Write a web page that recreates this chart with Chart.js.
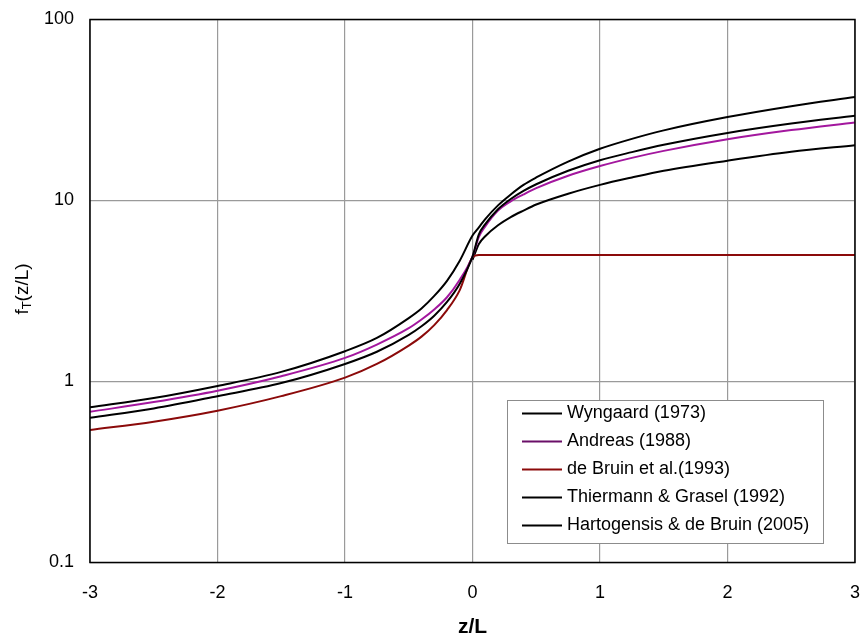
<!DOCTYPE html>
<html>
<head>
<meta charset="utf-8">
<title>fT(z/L)</title>
<script src="https://cdn.jsdelivr.net/npm/chart.js@4.4.1/dist/chart.umd.min.js"></script>
<style>
  html, body { margin: 0; padding: 0; background: #fff; }
  #wrap { width: 861px; height: 636px; }
</style>
</head>
<body>
<div id="wrap"><canvas id="ftChart" width="861" height="636"></canvas></div>
<script>
// Stability parameter z/L and the fT functions of each author
const zValues = [-3, -2.5, -2, -1.5, -1, -0.75, -0.5, -0.4, -0.3, -0.2, -0.1, 0, 0.05, 0.1, 0.2, 0.3, 0.4, 0.5, 0.75, 1, 1.25, 1.5, 2, 2.5, 3]

const wyngaard    = [0.63, 0.71, 0.83, 0.98, 1.25, 1.46, 1.81, 2.02, 2.31, 2.75, 3.47, 4.9, 6.5, 7.4, 8.95, 10.2, 11.3, 12.3, 14.6, 16.7, 18.5, 20.3, 23.6, 26.6, 29.4]
const andreas     = [0.68, 0.77, 0.89, 1.07, 1.35, 1.6, 1.97, 2.2, 2.5, 2.92, 3.65, 4.9, 6.3, 7.2, 8.8, 9.9, 10.8, 11.7, 13.7, 15.5, 17.2, 18.8, 21.8, 24.5, 27.0]
const deBruin     = [0.54, 0.6, 0.69, 0.83, 1.05, 1.25, 1.58, 1.77, 2.05, 2.48, 3.2, 4.85, 5.0, 5.0, 5.0, 5.0, 5.0, 5.0, 5.0, 5.0, 5.0, 5.0, 5.0, 5.0, 5.0]
const thiermann   = [0.72, 0.81, 0.945, 1.13, 1.47, 1.74, 2.24, 2.53, 2.97, 3.6, 4.65, 6.4, 7.1, 7.9, 9.4, 10.8, 12.2, 13.4, 16.4, 19.3, 21.9, 24.4, 28.9, 33.2, 37.3]
const hartogensis = [null, null, null, null, null, null, null, null, null, null, null, 4.7, 5.75, 6.35, 7.3, 8.1, 8.8, 9.5, 10.9, 12.2, 13.4, 14.6, 16.6, 18.6, 20.2]

const yTicks = [0.1, 1, 10, 100]
const xTicks = [-3, -2, -1, 0, 1, 2, 3]

const FONT = "'Liberation Sans', Arial, sans-serif"

function points(values) {
  return zValues.map((z, i) => ({ x: z, y: values[i] }))
}

function series(label, values, color) {
  return {
    label: label,
    data: points(values),
    borderColor: color,
    backgroundColor: color,
    borderWidth: 2,
    pointRadius: 0,
    cubicInterpolationMode: "monotone",
    spanGaps: false,
  }
}

// Legend box inside the plot, bottom right
const boxLegend = {
  id: "boxLegend",
  afterDraw(chart) {
    const ctx = chart.ctx
    ctx.save()
    ctx.fillStyle = "#fff"
    ctx.fillRect(507.5, 400.5, 316, 143)
    ctx.strokeStyle = "#8c8c8c"
    ctx.lineWidth = 1
    ctx.strokeRect(507.5, 400.5, 316, 143)
    ctx.font = "18px " + FONT
    ctx.textBaseline = "middle"
    chart.data.datasets.forEach((ds, i) => {
      const y = 413.5 + i * 28
      ctx.strokeStyle = ds.legendColor || ds.borderColor
      ctx.lineWidth = 2
      ctx.beginPath()
      ctx.moveTo(522, y)
      ctx.lineTo(562, y)
      ctx.stroke()
      ctx.fillStyle = "#000"
      ctx.fillText(ds.label, 567, y)
    })
    ctx.restore()
  },
}

// Frame around the plot area and the axis titles
const frameAndTitles = {
  id: "frameAndTitles",
  afterDatasetsDraw(chart) {
    const ctx = chart.ctx
    const a = chart.chartArea
    ctx.save()
    ctx.strokeStyle = "#000"
    ctx.lineWidth = 1.5
    ctx.strokeRect(a.left, a.top, a.right - a.left, a.bottom - a.top)

    ctx.fillStyle = "#000"
    ctx.textBaseline = "middle"
    ctx.textAlign = "center"
    ctx.font = "bold 21px " + FONT
    ctx.fillText("z/L", (a.left + a.right) / 2, 627)

    // y title: f with subscript T, then (z/L)
    ctx.translate(23, 289)
    ctx.rotate(-Math.PI / 2)
    ctx.textAlign = "left"
    ctx.font = "19px " + FONT
    const wf = ctx.measureText("f").width
    ctx.font = "13px " + FONT
    const wt = ctx.measureText("T").width
    ctx.font = "19px " + FONT
    const wr = ctx.measureText("(z/L)").width
    let x = -(wf + wt + wr) / 2
    ctx.fillText("f", x, 0)
    x += wf
    ctx.font = "13px " + FONT
    ctx.fillText("T", x, 4)
    x += wt
    ctx.font = "19px " + FONT
    ctx.fillText("(z/L)", x, 0)
    ctx.restore()
  },
}

const ctx = document.getElementById("ftChart").getContext("2d")

const ftChart = new Chart(ctx, {
  type: "line",
  data: {
    datasets: [
      series("Wyngaard (1973)", wyngaard, "#000000"),
      Object.assign(series("Andreas (1988)", andreas, "#a3179e"), { legendColor: "#6a0f68" }),
      series("de Bruin et al.(1993)", deBruin, "#8b0a0a"),
      series("Thiermann & Grasel (1992)", thiermann, "#000000"),
      series("Hartogensis & de Bruin (2005)", hartogensis, "#000000"),
    ],
  },
  options: {
    responsive: false,
    animation: false,
    layout: { padding: { top: 19.5, right: 6, left: 0, bottom: 0 } },
    plugins: {
      legend: { display: false },
      tooltip: { enabled: false },
    },
    scales: {
      x: {
        type: "linear",
        min: -3,
        max: 3,
        afterBuildTicks: (scale) => {
          scale.ticks = xTicks.map((v) => ({ value: v }))
        },
        afterFit: (scale) => {
          scale.height = 73.5
          scale.paddingLeft = 0
          scale.paddingRight = 0
        },
        grid: { color: "#9a9a9a", lineWidth: 1.2, drawTicks: false },
        border: { display: false },
        ticks: {
          color: "#000",
          padding: 20,
          font: { family: FONT, size: 18 },
          callback: (v) => String(v),
        },
      },
      y: {
        type: "logarithmic",
        min: 0.1,
        max: 100,
        afterBuildTicks: (scale) => {
          scale.ticks = yTicks.map((v) => ({ value: v }))
        },
        afterFit: (scale) => {
          scale.width = 90
          scale.paddingTop = 0
          scale.paddingBottom = 0
        },
        grid: { color: "#9a9a9a", lineWidth: 1.2, drawTicks: false },
        border: { display: false },
        ticks: {
          color: "#000",
          padding: 16,
          font: { family: FONT, size: 18 },
          callback: (v) => String(v),
        },
      },
    },
  },
  plugins: [frameAndTitles, boxLegend],
})
</script>
</body>
</html>
